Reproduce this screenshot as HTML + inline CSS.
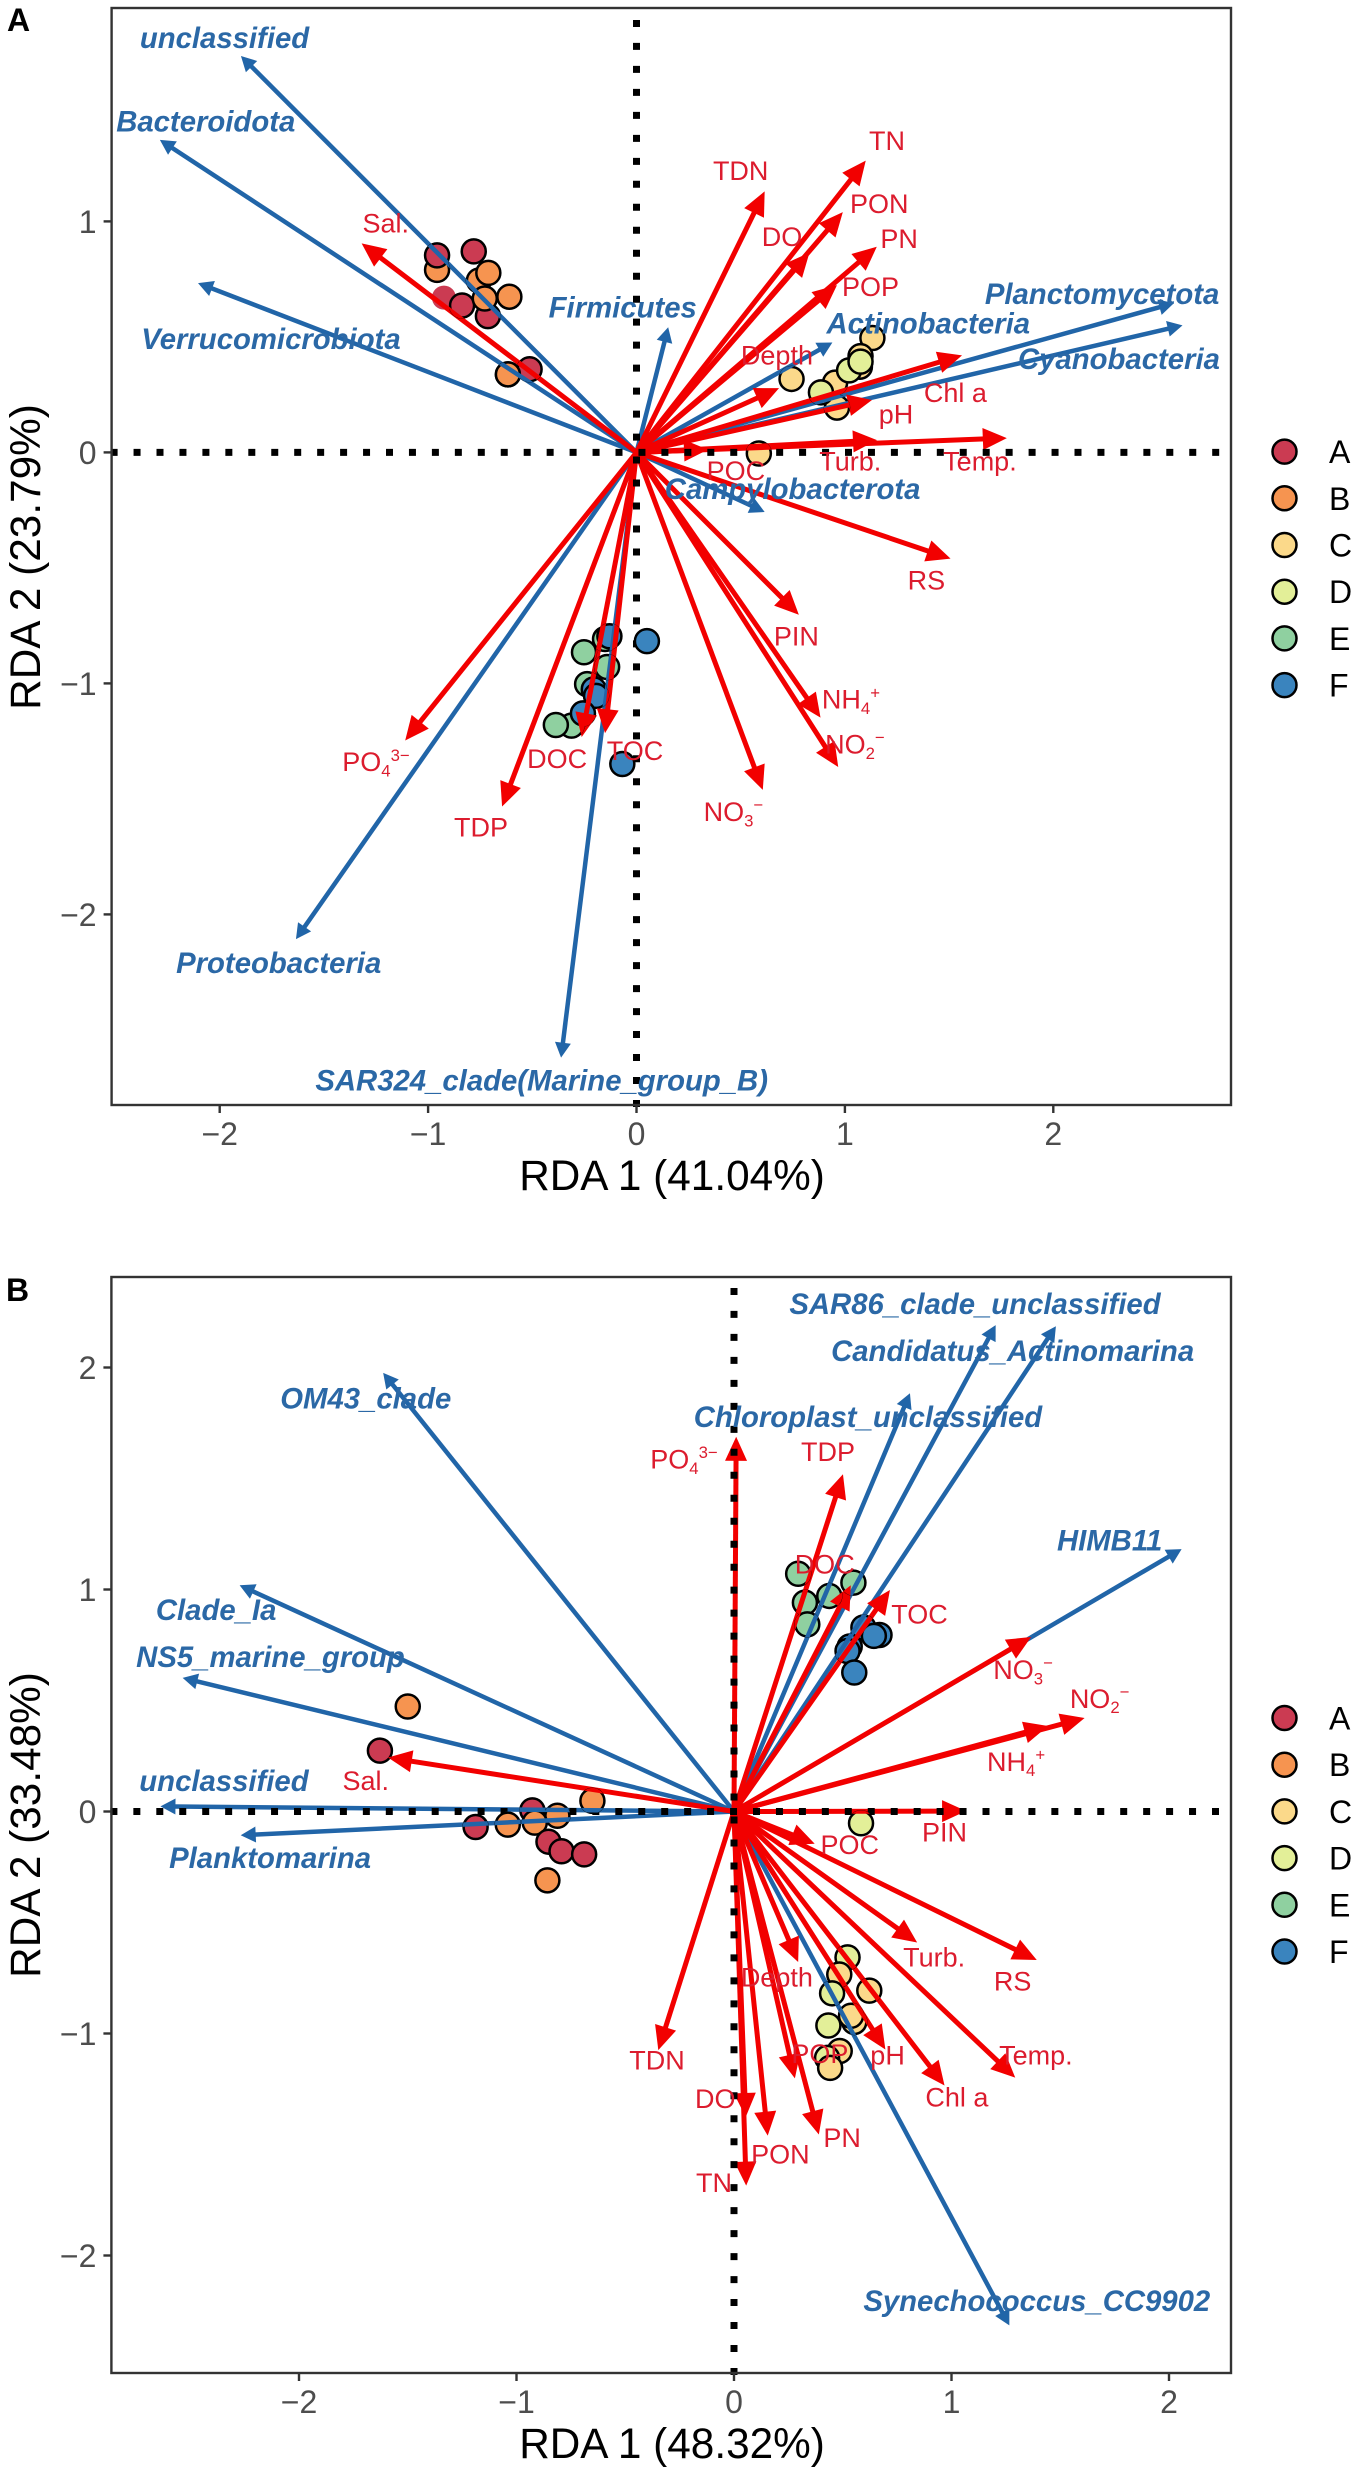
<!DOCTYPE html>
<html lang="en">
<head>
<meta charset="utf-8">
<title>RDA biplots</title>
<style>
html,body{margin:0;padding:0;background:#fff;}
svg{display:block;font-family:"Liberation Sans",sans-serif;}
</style>
</head>
<body>
<svg id="figure" xmlns="http://www.w3.org/2000/svg" width="1355" height="2475" viewBox="0 0 1355 2475"></svg>
<script>
// ---------- Shared ----------
const legendGroups = ['A','B','C','D','E','F'];
const groupColors = {A:'#cb3b52',B:'#f69450',C:'#fbd98a',D:'#e3ef98',E:'#8fd0a0',F:'#3a84be'};

// ---------- Panel A data ----------
const panelAXTicks = [-2,-1,0,1,2];
const panelAYTicks = [-2,-1,0,1];
const panelAXTitle = 'RDA 1 (41.04%)';
const panelAYTitle = 'RDA 2 (23.79%)';
const panelASpeciesNames = ['unclassified','Bacteroidota','Verrucomicrobiota','Firmicutes','Planctomycetota','Cyanobacteria','Actinobacteria','Campylobacterota','Proteobacteria','SAR324_clade(Marine_group_B)'];
const panelASpeciesX = [-1.898,-2.287,-2.104,0.152,2.579,2.62,0.94,0.615,-1.634,-0.362];
const panelASpeciesY = [1.716,1.353,0.733,0.542,0.646,0.55,0.476,-0.258,-2.107,-2.62];
const panelASpeciesLabelX = [-1.977,-2.067,-1.754,-0.066,2.234,2.315,1.40,0.749,-1.717,-0.455];
const panelASpeciesLabelY = [1.793,1.433,0.491,0.628,0.686,0.404,0.558,-0.158,-2.21,-2.72];
const panelAEnvNames = ['Sal.','TDN','TN','PON','DO','PN','POP','Depth','Chl a','pH','Temp.','Turb.','POC','RS','PIN','NH_4^+','NO_2^−','NO_3^−','PO_4^3−','TDP','DOC','TOC'];
const panelAEnvX = [-1.319,0.615,1.10,0.99,0.83,1.153,0.962,0.684,1.562,1.13,1.777,1.154,0.343,1.507,0.779,0.883,0.968,0.606,-1.11,-0.645,-0.263,-0.151];
const panelAEnvY = [0.905,1.13,1.263,1.04,0.865,0.89,0.724,0.278,0.42,0.227,0.062,0.053,0.012,-0.46,-0.703,-1.148,-1.362,-1.461,-1.247,-1.533,-1.232,-1.215];
const panelAEnvLabelX = [-1.203,0.5,1.202,1.165,0.698,1.26,1.123,0.674,1.53,1.245,1.648,1.026,0.477,1.391,0.767,1.029,1.048,0.465,-1.25,-0.746,-0.381,-0.007];
const panelAEnvLabelY = [0.994,1.221,1.35,1.077,0.935,0.926,0.719,0.421,0.259,0.166,-0.037,-0.037,-0.079,-0.552,-0.795,-1.068,-1.262,-1.554,-1.339,-1.622,-1.325,-1.291];
const panelAPointGroups = ['B','A','A','A','A','A','B','B','B','B','B','A','B','C','C','C','C','C','C','C','D','D','D','E','E','E','F','E','F','F','F','E','E','F','F'];
const panelAPointX = [-0.957,-0.957,-0.781,-0.924,-0.837,-0.713,-0.756,-0.711,-0.728,-0.61,-0.617,-0.513,-0.617,1.132,0.744,0.587,1.075,1.072,0.953,0.962,0.885,1.02,1.075,-0.151,-0.252,-0.141,-0.13,-0.237,-0.205,-0.194,0.05,-0.312,-0.387,-0.257,-0.068];
const panelAPointY = [0.79,0.853,0.87,0.67,0.636,0.59,0.744,0.777,0.666,0.674,0.338,0.36,0.338,0.495,0.318,-0.005,0.417,0.371,0.302,0.194,0.26,0.355,0.393,-0.808,-0.865,-0.929,-0.796,-1.003,-1.026,-1.054,-0.817,-1.183,-1.18,-1.13,-1.349];
const panelAFaintPoints = [3];

// ---------- Panel B data ----------
const panelBXTicks = [-2,-1,0,1,2];
const panelBYTicks = [-2,-1,0,1,2];
const panelBXTitle = 'RDA 1 (48.32%)';
const panelBYTitle = 'RDA 2 (33.48%)';
const panelBSpeciesNames = ['OM43_clade','Clade_Ia','NS5_marine_group','unclassified','Planktomarina','SAR86_clade_unclassified','Candidatus_Actinomarina','Chloroplast_unclassified','HIMB11','Synechococcus_CC9902'];
const panelBSpeciesX = [-1.613,-2.273,-2.535,-2.637,-2.268,1.203,1.48,0.809,2.058,1.266];
const panelBSpeciesY = [1.976,1.019,0.602,0.023,-0.107,2.191,2.186,1.884,1.182,-2.315];
const panelBSpeciesLabelX = [-1.693,-2.381,-2.131,-2.345,-2.133,1.108,1.281,0.616,1.727,1.392];
const panelBSpeciesLabelY = [1.86,0.908,0.696,0.137,-0.209,2.286,2.074,1.777,1.221,-2.205];
const panelBEnvNames = ['PO_4^3−','TDP','DOC','TOC','NO_3^−','NO_2^−','NH_4^+','PIN','POC','Sal.','Turb.','RS','Depth','Temp.','Chl a','pH','POP','PN','PON','DO','TN','TDN'];
const panelBEnvX = [0.01,0.501,0.537,0.717,1.366,1.612,1.444,1.067,0.371,-1.591,0.842,1.392,0.295,1.293,0.968,0.696,0.28,0.39,0.155,0.054,0.056,-0.348];
const panelBEnvY = [1.688,1.519,1.019,0.998,0.786,0.421,0.385,0.002,-0.145,0.243,-0.59,-0.669,-0.678,-1.199,-1.234,-1.072,-1.202,-1.455,-1.46,-1.376,-1.685,-1.075];
const panelBEnvLabelX = [-0.23,0.432,0.417,0.853,1.329,1.681,1.297,0.968,0.532,-1.693,0.92,1.281,0.197,1.388,1.025,0.706,0.395,0.497,0.213,-0.086,-0.092,-0.354];
const panelBEnvLabelY = [1.588,1.622,1.115,0.89,0.64,0.51,0.226,-0.092,-0.148,0.14,-0.655,-0.763,-0.745,-1.096,-1.286,-1.096,-1.089,-1.469,-1.543,-1.292,-1.672,-1.119];
const panelBPointGroups = ['B','A','B','A','B','B','B','A','A','A','A','B','D','C','D','C','C','C','D','C','D','C','D','E','E','E','E','E','F','F','F','F','F','F'];
const panelBPointX = [-1.5,-1.628,-0.651,-0.927,-0.812,-0.916,-1.04,-1.188,-0.853,-0.793,-0.689,-0.858,0.522,0.484,0.451,0.622,0.553,0.538,0.434,0.486,0.428,0.442,0.584,0.295,0.549,0.438,0.326,0.337,0.595,0.669,0.643,0.532,0.522,0.553];
const panelBPointY = [0.473,0.274,0.048,0.005,-0.019,-0.05,-0.059,-0.07,-0.136,-0.179,-0.193,-0.31,-0.657,-0.734,-0.819,-0.807,-0.948,-0.92,-0.964,-1.079,-1.11,-1.155,-0.053,1.071,1.031,0.971,0.941,0.843,0.829,0.795,0.791,0.743,0.723,0.626];
const panelBFaintPoints = [];

// ---------- Rendering ----------
const NS = 'http://www.w3.org/2000/svg';
const root = document.getElementById('figure');
function make(tag, attrs, parent){
  const node = document.createElementNS(NS, tag);
  for (const k in attrs) node.setAttribute(k, attrs[k]);
  (parent || root).appendChild(node);
  return node;
}
function slug(s){
  return s.toLowerCase().replace(/[^a-z0-9]+/g,'-').replace(/^-|-$/g,'');
}
function fillRichText(textNode, label, size){
  const parts = label.match(/[_^][^_^]+|[^_^]+/g);
  let shift = 0;
  parts.forEach(function(p){
    const span = make('tspan', {}, textNode);
    let target = 0;
    if (p[0] === '_') { target = size*0.2; p = p.slice(1); span.setAttribute('font-size', size*0.62); }
    else if (p[0] === '^') { target = -size*0.38; p = p.slice(1); span.setAttribute('font-size', size*0.62); }
    span.setAttribute('dy', target - shift);
    shift = target;
    span.textContent = p;
  });
}
function drawArrows(parent, names, xs, ys, sx, sy, color, width, headLen, headHalf, kind){
  names.forEach(function(name, i){
    const x0 = sx(0), y0 = sy(0), x1 = sx(xs[i]), y1 = sy(ys[i]);
    const dx = x1-x0, dy = y1-y0, len = Math.hypot(dx,dy), ux = dx/len, uy = dy/len;
    const bx = x1-ux*headLen, by = y1-uy*headLen;
    const g = make('g', {}, parent);
    
    
    make('line', {x1:x0,y1:y0,x2:bx+ux*2,y2:by+uy*2,stroke:color,'stroke-width':width}, g);
    make('polygon', {points:[x1,y1,bx-uy*headHalf,by+ux*headHalf,bx+uy*headHalf,by-ux*headHalf].join(' '),fill:color}, g);
  });
}
function drawPanel(p){
  const sx = function(v){ return p.x0 + v*p.ux; };
  const sy = function(v){ return p.y0 - v*p.uy; };
  const g = make('g', {});
  
  

  const letter = make('text', {x:p.letterX,y:p.letterY,'font-size':32,'font-weight':'bold',fill:'#000'}, g);
  
  
  letter.textContent = p.id;

  const bg = make('rect', {x:p.left,y:p.top,width:p.right-p.left,height:p.bottom-p.top,fill:'#fff'}, g);
  
  

  // bottom arrows layer
  const arrows = make('g', {id:'arrows'+p.id}, g);
  
  
  drawArrows(arrows, p.spNames, p.spX, p.spY, sx, sy, '#2165a8', 4.5, 15, 8, 'species');
  drawArrows(arrows, p.envNames, p.envX, p.envY, sx, sy, '#f20000', 5, 24, 11, 'env');

  // dotted zero lines
  const hz = make('line', {x1:p.left-1,y1:sy(0),x2:p.right,y2:sy(0),stroke:'#000','stroke-width':7,'stroke-dasharray':'7 15.95'}, g);
  
  
  const vt = make('line', {x1:sx(0),y1:p.bottom+2,x2:sx(0),y2:p.top,stroke:'#000','stroke-width':7,'stroke-dasharray':'7 15.98'}, g);
  
  

  // points
  const clip = make('clipPath', {id:'pointClip'+p.id}, g);
  const pts = make('g', {}, g);
  
  
  p.ptGroups.forEach(function(group, i){
    const c = make('circle', {cx:sx(p.ptX[i]),cy:sy(p.ptY[i]),r:12,fill:groupColors[group]}, pts);
    if (p.faint.indexOf(i) < 0) { c.setAttribute('stroke','#000'); c.setAttribute('stroke-width','2.5'); }
    
    
    make('circle', {cx:sx(p.ptX[i]),cy:sy(p.ptY[i]),r:13}, clip);
  });
  // arrows pass over points
  const over = make('use', {href:'#arrows'+p.id,'clip-path':'url(#pointClip'+p.id+')'}, g);
  
  

  // frame
  const frame = make('rect', {x:p.left,y:p.top,width:p.right-p.left,height:p.bottom-p.top,fill:'none',stroke:'#333','stroke-width':2.4}, g);
  
  

  // labels
  p.spNames.forEach(function(name, i){
    const t = make('text', {x:sx(p.spLX[i]),y:sy(p.spLY[i])+10,'text-anchor':'middle','font-size':29.3,'font-weight':'bold','font-style':'italic',fill:'#2b68a6'}, g);
    
    
    t.textContent = name;
  });
  p.envNames.forEach(function(name, i){
    const t = make('text', {x:sx(p.envLX[i]),y:sy(p.envLY[i])+9.5,'text-anchor':'middle','font-size':27,fill:'#dc1c2e'}, g);
    
    
    fillRichText(t, name, 27);
  });

  // axes
  p.xTicks.forEach(function(v){
    const tick = make('line', {x1:sx(v),y1:p.bottom,x2:sx(v),y2:p.bottom+8,stroke:'#333','stroke-width':2.4}, g);
    
    
    const lab = make('text', {x:sx(v),y:p.bottom+40,'text-anchor':'middle','font-size':32,fill:'#4d4d4d'}, g);
    
    
    lab.textContent = v < 0 ? '−' + (-v) : String(v);
  });
  p.yTicks.forEach(function(v){
    const tick = make('line', {x1:p.left-8,y1:sy(v),x2:p.left,y2:sy(v),stroke:'#333','stroke-width':2.4}, g);
    
    
    const lab = make('text', {x:p.left-15,y:sy(v)+11.5,'text-anchor':'end','font-size':32,fill:'#4d4d4d'}, g);
    
    
    lab.textContent = v < 0 ? '−' + (-v) : String(v);
  });
  const xt = make('text', {x:672,y:p.bottom+85,'text-anchor':'middle','font-size':42.3,fill:'#000'}, g);
  
  
  xt.textContent = p.xTitle;
  const yc = (p.yTitleCenter);
  const yt = make('text', {x:40,y:yc,'text-anchor':'middle','font-size':42.3,fill:'#000',transform:'rotate(-90 40 '+yc+')'}, g);
  
  
  yt.textContent = p.yTitle;

  // legend
  legendGroups.forEach(function(group, i){
    const ly = p.legendTop + i*46.7;
    const entry = make('g', {}, g);
    
    
    make('circle', {cx:1284.5,cy:ly,r:12,fill:groupColors[group],stroke:'#000','stroke-width':2.5}, entry);
    const t = make('text', {x:1329,y:ly+11.5,'font-size':32,fill:'#000'}, entry);
    t.textContent = group;
  });
}

drawPanel({id:'A',x0:636.5,ux:208.4,y0:452.4,uy:231,left:111.6,right:1231,top:8,bottom:1105,
  letterX:7,letterY:31,legendTop:451.6,yTitleCenter:557,
  xTicks:panelAXTicks,yTicks:panelAYTicks,xTitle:panelAXTitle,yTitle:panelAYTitle,
  spNames:panelASpeciesNames,spX:panelASpeciesX,spY:panelASpeciesY,spLX:panelASpeciesLabelX,spLY:panelASpeciesLabelY,
  envNames:panelAEnvNames,envX:panelAEnvX,envY:panelAEnvY,envLX:panelAEnvLabelX,envLY:panelAEnvLabelY,
  ptGroups:panelAPointGroups,ptX:panelAPointX,ptY:panelAPointY,faint:panelAFaintPoints});
drawPanel({id:'B',x0:734,ux:217.5,y0:1811.5,uy:222,left:111.4,right:1231,top:1277,bottom:2373,
  letterX:6,letterY:1301,legendTop:1718,yTitleCenter:1825,
  xTicks:panelBXTicks,yTicks:panelBYTicks,xTitle:panelBXTitle,yTitle:panelBYTitle,
  spNames:panelBSpeciesNames,spX:panelBSpeciesX,spY:panelBSpeciesY,spLX:panelBSpeciesLabelX,spLY:panelBSpeciesLabelY,
  envNames:panelBEnvNames,envX:panelBEnvX,envY:panelBEnvY,envLX:panelBEnvLabelX,envLY:panelBEnvLabelY,
  ptGroups:panelBPointGroups,ptX:panelBPointX,ptY:panelBPointY,faint:panelBFaintPoints});
</script>
</body>
</html>
